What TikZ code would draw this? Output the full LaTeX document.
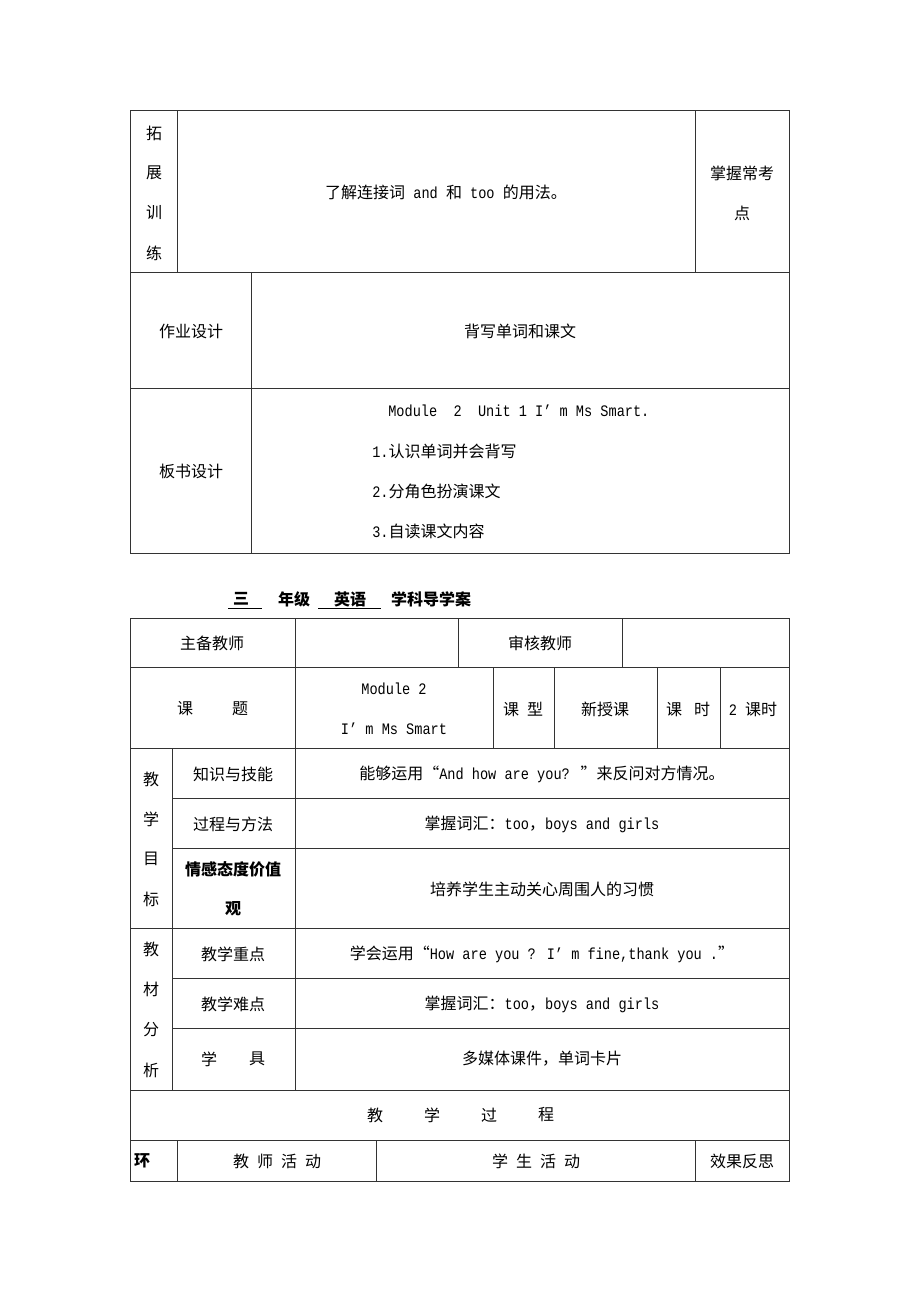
\documentclass[tikz,border=0pt]{standalone}
\usepackage{fontspec}
\setmainfont{Noto Sans CJK SC}
\newfontfamily\monofam{Liberation Mono}[FakeStretch=0.85]
\newcommand\en[1]{{\monofam #1}}
\begin{document}
\begin{tikzpicture}[x=0.75pt,y=-0.75pt,
  font=\fontsize{12}{14}\selectfont,
  ln/.style={draw=black!80, line width=0.75pt},
  t/.style={inner sep=0pt, anchor=center},
  tw/.style={inner sep=0pt, anchor=west},
  bf/.style={font=\fontsize{12}{14}\selectfont\bfseries}]
\fill[white] (0,0) rectangle (920,1302);
\useasboundingbox (0,0) rectangle (920,1302);
% ---------- top table ----------
\draw[ln] (130,111) rectangle (789,553);
\draw[ln] (130,272) -- (789,272);
\draw[ln] (130,388) -- (789,388);
\draw[ln] (177,111) -- (177,272);
\draw[ln] (695,111) -- (695,272);
\draw[ln] (251,272) -- (251,553);
\node[t] (tz1) at (154,133) {拓};
\node[t] (tz2) at (154,173) {展};
\node[t] (tz3) at (154,213) {训};
\node[t] (tz4) at (154,253) {练};
\node[t] (tzc) at (446,192) {了解连接词\en{ and }和\en{ too }的用法。};
\node[t] (kd1) at (742,173) {掌握常考};
\node[t] (kd2) at (742,213) {点};
\node[t] (zy) at (191,331) {作业设计};
\node[t] (zyc) at (520,331) {背写单词和课文};
\node[t] (bs) at (191,471) {板书设计};
\node[tw] (bs0) at (388,411) {\en{Module\ \ 2\ \ Unit 1 I’ m Ms Smart.}};
\node[tw] (bs1) at (372,451) {\en{1.}认识单词并会背写};
\node[tw] (bs2) at (372,491) {\en{2.}分角色扮演课文};
\node[tw] (bs3) at (372,531) {\en{3.}自读课文内容};
% ---------- title ----------
\node[t,bf] (ti1) at (241,599) {三};
\node[t,bf] (ti2) at (294,599) {年级};
\node[t,bf] (ti3) at (350,599) {英语};
\node[t,bf] (ti4) at (431,599) {学科导学案};
\draw[black, line width=0.6pt] (228,608) -- (262,608);
\draw[black, line width=0.6pt] (318,608) -- (381,608);
% ---------- second table ----------
\draw[ln] (130,618) rectangle (789,1181);
\foreach \yy in {667,748,928,1090,1140} \draw[ln] (130,\yy) -- (789,\yy);
\foreach \yy in {798,848,978,1028} \draw[ln] (172,\yy) -- (789,\yy);
\foreach \xx in {295,458,622} \draw[ln] (\xx,618) -- (\xx,667);
\foreach \xx in {295,493,554,657,720} \draw[ln] (\xx,667) -- (\xx,748);
\foreach \xx in {172,295} \draw[ln] (\xx,748) -- (\xx,1090);
\foreach \xx in {177,376,695} \draw[ln] (\xx,1140) -- (\xx,1181);
% row 1
\node[t] (zb) at (212,643) {主备教师};
\node[t] (sh) at (540,643) {审核教师};
% row 2
\node[t] (kt1) at (185,709) {课};
\node[t] (kt2) at (240,709) {题};
\node[t] (md1) at (394,689) {\en{Module 2}};
\node[t] (md2) at (394,729) {\en{I’ m Ms Smart}};
\node[t] (kx) at (523,709) {课\hspace{0.5em}型};
\node[t] (xsk) at (605,709) {新授课};
\node[t] (ks) at (688,709) {课\hspace{0.75em}时};
\node[t] (ksv) at (753,709) {\en{2 }课时};
% 教学目标
\node[t] (jm1) at (151,779) {教};
\node[t] (jm2) at (151,819) {学};
\node[t] (jm3) at (151,859) {目};
\node[t] (jm4) at (151,899) {标};
\node[t] (zs) at (233,774) {知识与技能};
\node[t] (zsc) at (542,774) {能够运用“\en{And how are you? }”来反问对方情况。};
\node[t] (gc) at (233,824) {过程与方法};
\node[t] (gcc) at (542,824) {掌握词汇：\en{too}，\en{boys and girls}};
\node[t,bf] (qg1) at (233,869) {情感态度价值};
\node[t,bf] (qg2) at (233,909) {观};
\node[t] (qgc) at (542,889) {培养学生主动关心周围人的习惯};
% 教材分析
\node[t] (jc1) at (151,949) {教};
\node[t] (jc2) at (151,989) {材};
\node[t] (jc3) at (151,1030) {分};
\node[t] (jc4) at (151,1070) {析};
\node[t] (zd) at (233,954) {教学重点};
\node[t] (zdc) at (542,954) {学会运用“\en{How are you ? I’ m fine,thank you .}”};
\node[t] (nd) at (233,1004) {教学难点};
\node[t] (ndc) at (542,1004) {掌握词汇：\en{too}，\en{boys and girls}};
\node[t] (xj1) at (209,1059) {学};
\node[t] (xj2) at (257,1059) {具};
\node[t] (xjc) at (542,1059) {多媒体课件，单词卡片};
% 教学过程
\node[t] (gc1) at (375,1115) {教};
\node[t] (gc2) at (432,1115) {学};
\node[t] (gc3) at (489,1115) {过};
\node[t] (gc4) at (546,1115) {程};
% last row
\node[t,bf] (hj) at (142,1161) {环};
\node[t] (js) at (277,1161) {教\hspace{0.5em}师\hspace{0.5em}活\hspace{0.5em}动};
\node[t] (xs) at (536,1161) {学\hspace{0.5em}生\hspace{0.5em}活\hspace{0.5em}动};
\node[t] (xg) at (742,1161) {效果反思};
\end{tikzpicture}
\end{document}
